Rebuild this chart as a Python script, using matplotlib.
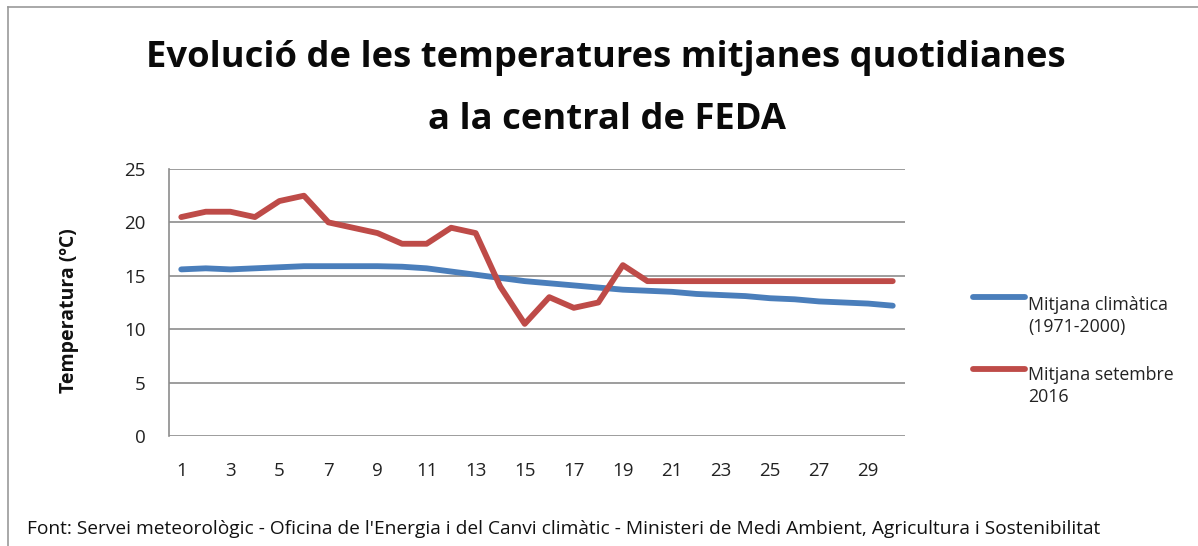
import matplotlib
matplotlib.use("Agg")
import matplotlib.pyplot as plt
from matplotlib.lines import Line2D

days = list(range(1, 31))
climatica = [15.6, 15.7, 15.6, 15.7, 15.8, 15.9, 15.9, 15.9, 15.9, 15.85,
             15.7, 15.4, 15.1, 14.8, 14.5, 14.3, 14.1, 13.9, 13.7, 13.6,
             13.5, 13.3, 13.2, 13.1, 12.9, 12.8, 12.6, 12.5, 12.4, 12.2]
setembre = [20.5, 21, 21, 20.5, 22, 22.5, 20, 19.5, 19, 18,
            18, 19.5, 19, 14, 10.5, 13, 12, 12.5, 16, 14.5,
            14.5, 14.5, 14.5, 14.5, 14.5, 14.5, 14.5, 14.5, 14.5, 14.5]
xticks = list(range(1, 31, 2))
yticks = [0, 5, 10, 15, 20, 25]
title_lines = ["Evolució de les temperatures mitjanes quotidianes",
               "a la central de FEDA"]
ylabel = "Temperatura (ºC)"
legend_labels = ["Mitjana climàtica\n(1971-2000)", "Mitjana setembre\n2016"]
source = ("Font: Servei meteorològic - Oficina de l'Energia i del Canvi climàtic - "
          "Ministeri de Medi Ambient, Agricultura i Sostenibilitat")

plt.rcParams['font.family'] = ['Open Sans', 'DejaVu Sans']

W, H = 1198, 546
fig = plt.figure(figsize=(W / 100, H / 100), dpi=100)


def fx(px):
    return px / W


def fy(py):
    return 1 - py / H


ax = fig.add_axes([fx(169), fy(436), fx(905 - 169), (436 - 169) / H])

blue = "#4a7ebb"
red = "#be4b48"
colors = [blue, red]
ax.plot(days, climatica, color=blue, lw=4.2, solid_capstyle='round', solid_joinstyle='round')
ax.plot(days, setembre, color=red, lw=4.2, solid_capstyle='round', solid_joinstyle='round')

ax.set_xlim(0.5, 30.5)
ax.set_ylim(0, 25)
ax.set_yticks(yticks)
ax.set_xticks(xticks)
ax.tick_params(axis='x', length=0, labelsize=13.5, colors="#222222", pad=19)
ax.tick_params(axis='y', length=0, labelsize=13.5, colors="#222222", pad=17)
ax.grid(axis='y', color="#8c8c8c", lw=1.2)
ax.set_axisbelow(True)
for s in ['top', 'right', 'bottom']:
    ax.spines[s].set_visible(False)
ax.spines['left'].set_color("#8c8c8c")
ax.spines['left'].set_linewidth(1.2)

fig.text(fx(69), fy(311), ylabel, rotation=90, ha='center', va='center',
         fontsize=14, fontweight='bold', color="#111111")

fig.text(fx(606), fy(67), title_lines[0], ha='center', va='baseline',
         fontsize=26.2, fontweight='bold', color="#0a0a0a")
fig.text(fx(607), fy(129), title_lines[1], ha='center', va='baseline',
         fontsize=26.2, fontweight='bold', color="#0a0a0a")

# legend
handle_y = [297, 369]
label_base = [332, 402]
for c, lab, hy, by in zip(colors, legend_labels, handle_y, label_base):
    fig.add_artist(Line2D([fx(973), fx(1025)], [fy(hy), fy(hy)], color=c, lw=4.2,
                          solid_capstyle='round', transform=fig.transFigure))
    fig.text(fx(1028), fy(by), lab, ha='left', va='baseline', fontsize=12.8,
             linespacing=1.3, color="#222222")

fig.text(fx(27), fy(534), source, ha='left', va='baseline', fontsize=13.8, color="#111111")

# frame lines (top and left)
fig.add_artist(Line2D([fx(8), 1], [fy(7), fy(7)], color="#999999", lw=1.2,
                      transform=fig.transFigure))
fig.add_artist(Line2D([fx(8), fx(8)], [fy(7), 0], color="#999999", lw=1.2,
                      transform=fig.transFigure))

fig.savefig("out.png", dpi=100, facecolor='white')
